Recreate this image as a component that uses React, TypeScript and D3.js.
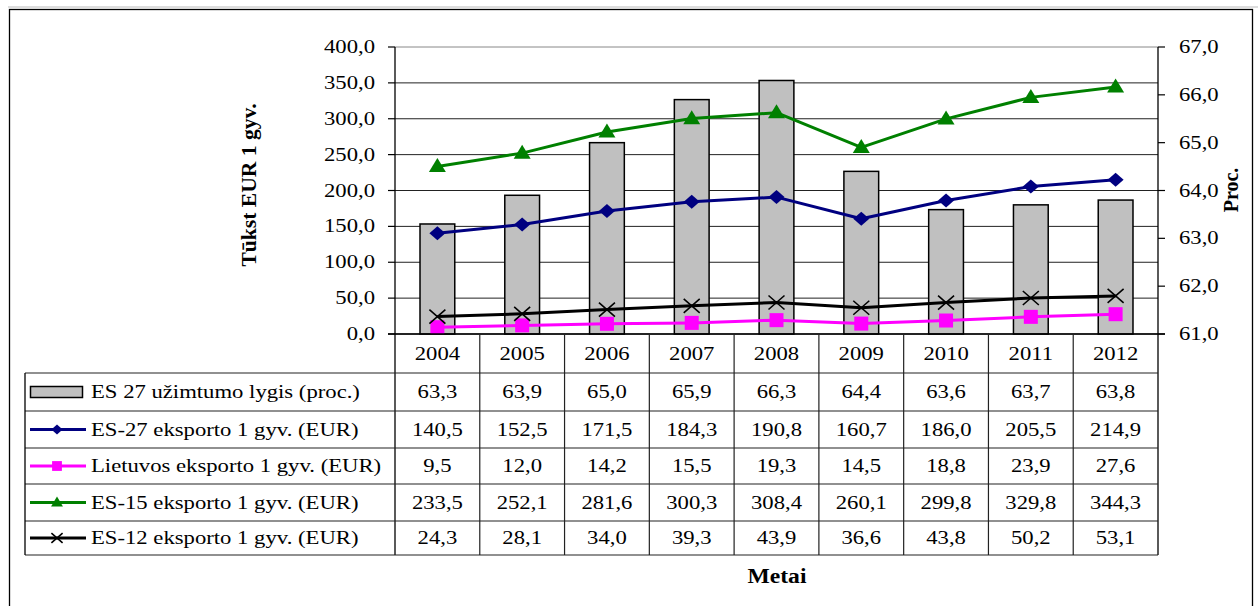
import React from "react";
import * as d3 from "d3";

const years = ["2004", "2005", "2006", "2007", "2008", "2009", "2010", "2011", "2012"];
const employment = [63.3, 63.9, 65.0, 65.9, 66.3, 64.4, 63.6, 63.7, 63.8];
const es27 = [140.5, 152.5, 171.5, 184.3, 190.8, 160.7, 186.0, 205.5, 214.9];
const lt = [9.5, 12.0, 14.2, 15.5, 19.3, 14.5, 18.8, 23.9, 27.6];
const es15 = [233.5, 252.1, 281.6, 300.3, 308.4, 260.1, 299.8, 329.8, 344.3];
const es12 = [24.3, 28.1, 34.0, 39.3, 43.9, 36.6, 43.8, 50.2, 53.1];
const leftTicks = [0, 50, 100, 150, 200, 250, 300, 350, 400];
const rightTicks = [61, 62, 63, 64, 65, 66, 67];

const seriesNames = [
  "ES 27 užimtumo lygis (proc.)",
  "ES-27 eksporto 1 gyv. (EUR)",
  "Lietuvos eksporto 1 gyv. (EUR)",
  "ES-15 eksporto 1 gyv. (EUR)",
  "ES-12 eksporto 1 gyv. (EUR)",
];

const FONT = "'Liberation Serif','Times New Roman',serif";
const fmt = (v: number) => v.toFixed(1).replace(".", ",");

function T({ x, y, anchor = "middle", size = 18, bold = false, sx = 1.26, children }: any) {
  return (
    <text
      transform={`translate(${x},${y}) scale(${sx},1)`}
      textAnchor={anchor}
      fontFamily={FONT}
      fontSize={size}
      fontWeight={bold ? "bold" : "normal"}
      fill="#000"
    >
      {children}
    </text>
  );
}

type MK = "diamond" | "square" | "triangle" | "x";

function Marker({ kind, x, y, s = 1, color }: { kind: MK; x: number; y: number; s?: number; color: string }) {
  if (kind === "diamond") {
    const rx = 8 * s;
    const ry = 7 * s;
    return <path d={`M${x},${y - ry}L${x + rx},${y}L${x},${y + ry}L${x - rx},${y}Z`} fill={color} />;
  }
  if (kind === "square") {
    const r = 7 * s;
    return <rect x={x - r} y={y - r} width={2 * r} height={2 * r} fill={color} />;
  }
  if (kind === "triangle") {
    const w = 8.5 * s;
    const h = 14 * s;
    return <path d={`M${x},${y - h * 0.6}L${x + w},${y + h * 0.4}L${x - w},${y + h * 0.4}Z`} fill={color} />;
  }
  const rx = 8 * s;
  const ry = 7 * s;
  return (
    <path d={`M${x - rx},${y - ry}L${x + rx},${y + ry}M${x + rx},${y - ry}L${x - rx},${y + ry}`} stroke={color} strokeWidth={1.6} fill="none" />
  );
}

export default function App() {
  const W = 1258;
  const H = 606;
  const left = 395;
  const right = 1158;
  const top = 47;
  const bottom = 334;
  const tableLeft = 25;
  const rowLines = [373, 411, 448, 484, 521, 555];

  const x = d3.scaleBand<string>().domain(years).range([left, right]).padding(0);
  const yL = d3.scaleLinear().domain([0, 400]).range([bottom, top]);
  const yR = d3.scaleLinear().domain([61, 67]).range([bottom, top]);
  const bw = x.bandwidth();
  const barW = bw * 0.41;
  const cx = (i: number) => (x(years[i]) as number) + bw / 2;

  const lineSeries: { vals: number[]; color: string; kind: MK }[] = [
    { vals: es27, color: "#000080", kind: "diamond" },
    { vals: lt, color: "#FF00FF", kind: "square" },
    { vals: es15, color: "#008000", kind: "triangle" },
    { vals: es12, color: "#000000", kind: "x" },
  ];
  const lineGen = d3
    .line<number>()
    .x((_, i) => cx(i))
    .y((d) => yL(d));

  const tableRows = [employment, es27, lt, es15, es12];

  return (
    <svg width={W} height={H} style={{ position: "absolute", left: 0, top: 0, background: "#fff" }}>
      <rect x={0} y={0} width={W} height={H} fill="#fff" />
      {/* outer frame */}
      <line x1={8} x2={W} y1={7} y2={7} stroke="#bbb" strokeWidth={1} />
      <rect x={9.5} y={9.5} width={1243} height={H + 10} fill="none" stroke="#000" strokeWidth={1.3} />

      {/* gridlines */}
      {leftTicks.map((t) => (
        <line key={t} x1={left} x2={right} y1={yL(t)} y2={yL(t)} stroke={t === 400 ? "#888" : "#222"} strokeWidth={1} />
      ))}

      {/* bars */}
      {employment.map((v, i) => (
        <rect
          key={i}
          x={cx(i) - barW / 2}
          y={yR(v)}
          width={barW}
          height={bottom - yR(v)}
          fill="#C0C0C0"
          stroke="#000"
          strokeWidth={1.5}
        />
      ))}

      {/* lines */}
      {lineSeries.map((s, k) => (
        <g key={k}>
          <path d={lineGen(s.vals) as string} fill="none" stroke={s.color} strokeWidth={3} strokeLinejoin="round" />
          {s.vals.map((v, i) => (
            <Marker key={i} kind={s.kind} x={cx(i)} y={yL(v)} color={s.color} />
          ))}
        </g>
      ))}

      {/* axes */}
      <line x1={left} x2={left} y1={top} y2={rowLines[5]} stroke="#000" strokeWidth={1.3} />
      <line x1={right} x2={right} y1={top} y2={rowLines[5]} stroke="#000" strokeWidth={1.3} />
      <line x1={left - 7} x2={right + 7} y1={bottom} y2={bottom} stroke="#000" strokeWidth={1.3} />
      {leftTicks.map((t) => (
        <g key={t}>
          <line x1={left - 7} x2={left} y1={yL(t)} y2={yL(t)} stroke="#000" strokeWidth={1.2} />
          <T x={375} y={yL(t) + 6} anchor="end">
            {fmt(t)}
          </T>
        </g>
      ))}
      {rightTicks.map((t) => (
        <g key={t}>
          <line x1={right} x2={right + 7} y1={yR(t)} y2={yR(t)} stroke="#000" strokeWidth={1.2} />
          <T x={1179} y={yR(t) + 6} anchor="start">
            {fmt(t)}
          </T>
        </g>
      ))}

      {/* data table */}
      {rowLines.map((ry, k) => (
        <line key={k} x1={tableLeft} x2={right} y1={ry} y2={ry} stroke="#222" strokeWidth={1.2} />
      ))}
      <line x1={tableLeft} x2={tableLeft} y1={rowLines[0]} y2={rowLines[5]} stroke="#000" strokeWidth={1.3} />
      {years.map((yr, i) =>
        i > 0 ? (
          <line key={yr} x1={x(yr) as number} x2={x(yr) as number} y1={bottom} y2={rowLines[5]} stroke="#222" strokeWidth={1.2} />
        ) : null
      )}
      {years.map((yr, i) => (
        <T key={yr} x={cx(i)} y={(bottom + rowLines[0]) / 2 + 6.5}>
          {yr}
        </T>
      ))}
      {tableRows.map((vals, r) => {
        const my = (rowLines[r] + rowLines[r + 1]) / 2;
        return (
          <g key={r}>
            {vals.map((v, i) => (
              <T key={i} x={cx(i)} y={my + 6}>
                {fmt(v)}
              </T>
            ))}
            {r === 0 ? (
              <rect x={30.5} y={my - 5.5} width={52} height={11} fill="#C0C0C0" stroke="#000" strokeWidth={1.5} />
            ) : (
              <g>
                <line x1={30} x2={86} y1={my} y2={my} stroke={lineSeries[r - 1].color} strokeWidth={3} />
                <Marker kind={lineSeries[r - 1].kind} x={57} y={my} s={0.7} color={lineSeries[r - 1].color} />
              </g>
            )}
            <T x={91} y={my + 6} anchor="start">
              {seriesNames[r]}
            </T>
          </g>
        );
      })}

      {/* titles */}
      <text
        transform={`translate(256,185) rotate(-90) scale(1.08,1)`}
        textAnchor="middle"
        fontFamily={FONT}
        fontSize={20}
        fontWeight="bold"
      >
        Tūkst EUR 1 gyv.
      </text>
      <text
        transform={`translate(1238,190) rotate(-90)`}
        textAnchor="middle"
        fontFamily={FONT}
        fontSize={20}
        fontWeight="bold"
      >
        Proc.
      </text>
      <T x={777} y={583} size={20} bold sx={1.18}>
        Metai
      </T>
    </svg>
  );
}
